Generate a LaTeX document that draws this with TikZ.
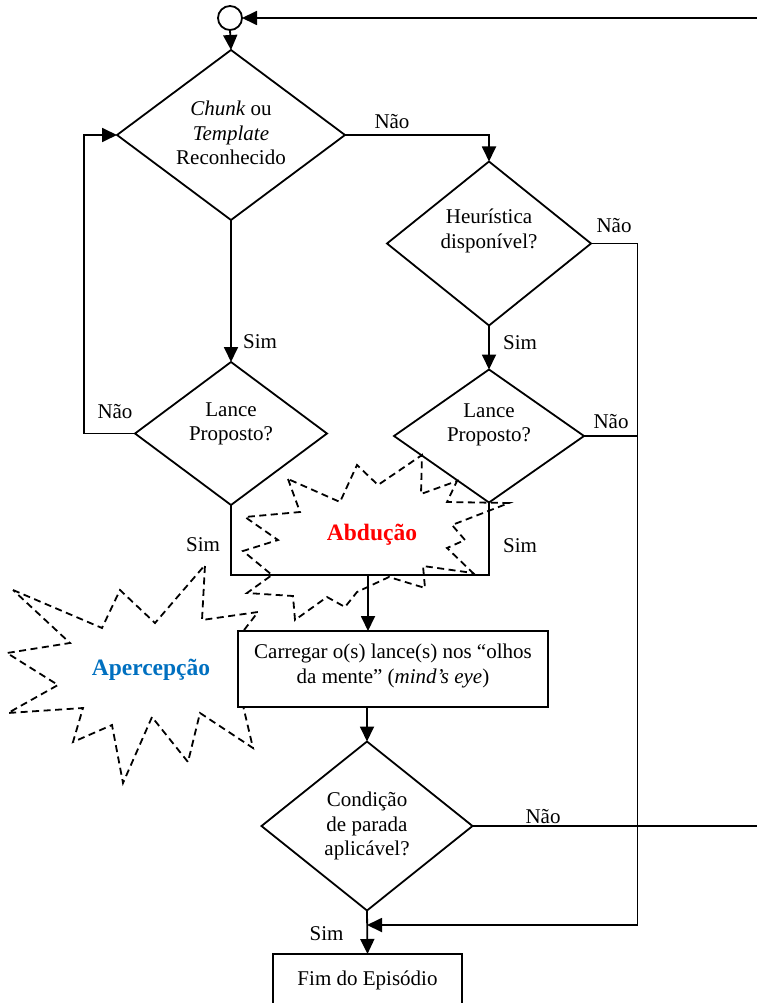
\documentclass[tikz,border=0pt]{standalone}
\usepackage{fontspec}
\setmainfont{Liberation Serif}
\usetikzlibrary{shapes.geometric,arrows.meta}
\definecolor{abdred}{RGB}{255,0,0}
\definecolor{aperblue}{RGB}{0,112,192}

\begin{document}
\begin{tikzpicture}[x=1pt,y=-1pt,
  line width=1.8pt,
  >={Triangle[length=15pt,width=14pt]},
  every node/.style={inner sep=0pt,outer sep=0pt},
  decision/.style={draw,diamond,shape aspect=1},
  txt/.style={font=\fontsize{21}{24.5}\selectfont,align=center},
  lbl/.style={font=\fontsize{21}{24.5}\selectfont,anchor=base},
  burst/.style={draw,line width=1.8pt,dash pattern=on 7pt off 4.5pt,line join=miter},
  burstlabel/.style={font=\fontsize{23.5}{28}\selectfont\bfseries,anchor=base}]

\useasboundingbox (0,0) rectangle (756,1003);

% start marker and outer return line
\node[draw,circle,minimum size=24pt] (start) at (230,18) {};
\coordinate (topright) at (757,18);
\coordinate (rightend) at (757,826);

% decisions
\node[decision,minimum width=228pt,minimum height=170pt] (d1) at (231,135) {};
\node[txt] (t1) at (231,133) {\textit{Chunk} ou\\\textit{Template}\\Reconhecido};

\node[decision,minimum width=204pt,minimum height=164pt] (d2) at (489,243.5) {};
\node[txt] (t2) at (489,231) {Heurística\\disponível?};

\node[decision,minimum width=192pt,minimum height=143pt] (d3) at (231,433.5) {};
\node[txt] (t3) at (231,424) {Lance\\Proposto?};

\node[decision,minimum width=190pt,minimum height=133pt] (d4) at (489,436) {};
\node[txt] (t4) at (489,425) {Lance\\Proposto?};

\node[decision,minimum width=211pt,minimum height=169pt] (d5) at (367,826) {};
\node[txt] (t5) at (367,826) {Condição\\de parada\\aplicável?};

% end box, open at the lower page edge
\node[draw,minimum width=189pt,minimum height=60pt] (fim) at (367.5,984) {};
\node[lbl] (tfim) at (367.5,985) {Fim do Episódio};

% routing points
\coordinate (nao1) at (489,135);
\coordinate (loopb) at (84,433.5);
\coordinate (loopt) at (84,135);
\coordinate (colr) at (637.5,243.5);
\coordinate (colb) at (637.5,925);
\coordinate (simL) at (231,575);
\coordinate (simR) at (489,575);
\coordinate (join) at (368,575);

% connectors
\draw[->] (topright) -- (start.east);
\draw[->] (start.south) -- (d1.north);
\draw[->] (d1.east) -- (nao1) -- (d2.north);
\draw[->] (d1.south) -- (d3.north);
\draw[->] (d3.west) -- (loopb) -- (loopt) -- (d1.west);
\draw[->] (d2.south) -- (d4.north);
\draw (d2.east) -- (colr) -- (colb);
\draw (d4.east) -- (d4.east -| colr);
\draw[->] (colb) -- (colb -| d5.south);
\draw (d3.south) -- (simL) -- (simR) -- (d4.south);
\draw (d5.east) -- (rightend);
\draw[->] (d5.south) -- (fim.north);

% labels on the branches
\node[lbl] (lnao1) at (392,129) {Não};
\node[lbl] (lsim1) at (260,348) {Sim};
\node[lbl] (lnao2) at (115,418) {Não};
\node[lbl] (lsim2) at (520,349) {Sim};
\node[lbl] (lnao3) at (614,232) {Não};
\node[lbl] (lnao4) at (611,428) {Não};
\node[lbl] (lsim3) at (203,551) {Sim};
\node[lbl] (lsim4) at (520,552) {Sim};
\node[lbl] (lnao5) at (543,823) {Não};
\node[lbl] (lsim5) at (326.5,940) {Sim};

% dashed bursts
\draw[burst] (288,479) -- (300,512) -- (245,517) -- (278,540) -- (243,551)
  -- (272,575) -- (247,593) -- (293,596) -- (295,620) -- (327,597)
  -- (345,607) -- (357,592) -- (389,577) -- (425,588) -- (423,566)
  -- (473,573) -- (447,548) -- (465,540) -- (452,525) -- (509,503)
  -- (447,502) -- (457,481) -- (421,494) -- (422,455) -- (378,485)
  -- (357,465) -- (340,502) -- cycle;
\node[burstlabel,text=abdred] (abd) at (372,540) {Abdução};

\draw[burst] (13,590) -- (102,628) -- (120,590) -- (155,623) -- (205,565)
  -- (202,620) -- (258,612) -- (241,634) -- (241,697) -- (253,748)
  -- (200,713) -- (188,762) -- (152,717) -- (123,783) -- (112,725)
  -- (73,742) -- (83,708) -- (8,713) -- (58,685) -- (7,653)
  -- (70,643) -- cycle;
\node[burstlabel,text=aperblue] (aper) at (151,675) {Apercepção};

% load step box, drawn over the bursts
\node[draw,fill=white,minimum width=310pt,minimum height=76pt] (load) at (393,669) {};
\node[txt] (tload) at (393,666) {Carregar o(s) lance(s) nos “olhos\\da mente” (\textit{mind’s eye})};
\draw[->] (join) -- (join |- load.north);
\draw[->] (d5.north |- load.south) -- (d5.north);

\end{tikzpicture}
\end{document}
